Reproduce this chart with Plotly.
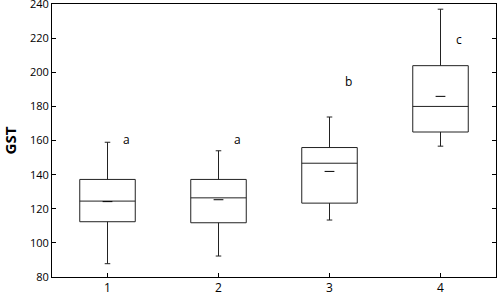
import plotly.graph_objects as go

categories = [1, 2, 3, 4]
lower = [87.8, 92.3, 113.4, 156.7]
q1 = [112.4, 111.8, 123.3, 165.0]
median = [124.5, 126.4, 146.7, 180.0]
q3 = [137.2, 137.2, 155.9, 203.9]
upper = [159.0, 154.0, 173.8, 237.0]
means = [124.2, 125.3, 141.9, 185.9]
letters = ["a", "a", "b", "c"]
letter_y = [160.8, 160.8, 194.7, 219.0]

fig = go.Figure()
fig.add_trace(go.Box(
    x=categories, q1=q1, median=median, q3=q3,
    lowerfence=lower, upperfence=upper,
    width=0.5, whiskerwidth=0.1,
    fillcolor="white", line=dict(color="#222222", width=1),
    boxpoints=False, showlegend=False, hoverinfo="skip"))
fig.add_trace(go.Scatter(
    x=categories, y=means, mode="markers",
    marker=dict(symbol="line-ew", size=7, line=dict(color="black", width=1)),
    showlegend=False, hoverinfo="skip"))
for c, t, yy in zip(categories, letters, letter_y):
    fig.add_annotation(x=c + 0.17, y=yy, text=t, showarrow=False,
                       font=dict(size=12, color="black", family="Open Sans"))

fig.update_layout(
    width=498, height=295,
    margin=dict(l=52, r=2, t=4, b=18),
    plot_bgcolor="white", paper_bgcolor="white",
    font=dict(family="Open Sans", color="black", size=11),
    xaxis=dict(range=[0.5, 4.5], tickvals=categories, ticktext=[str(c) for c in categories],
               showline=True, linecolor="black", linewidth=1, mirror=True, automargin=False,
               ticks="inside", ticklen=4, tickcolor="black", showgrid=False, zeroline=False,
               tickfont=dict(size=12)),
    yaxis=dict(range=[80, 240.05], tickvals=list(range(80, 241, 20)),
               ticklabeloverflow="allow",
               showline=True, linecolor="black", linewidth=1, mirror="ticks", automargin=False,
               ticks="inside", ticklen=4, tickcolor="black", showgrid=False, zeroline=False,
               tickfont=dict(size=11),
               title=dict(text="<b>GST</b>", font=dict(size=15), standoff=14)),
)
fig.write_html("out.html", config={"displayModeBar": False},
               post_script="document.body.style.margin='0';document.body.style.overflow='hidden';")
